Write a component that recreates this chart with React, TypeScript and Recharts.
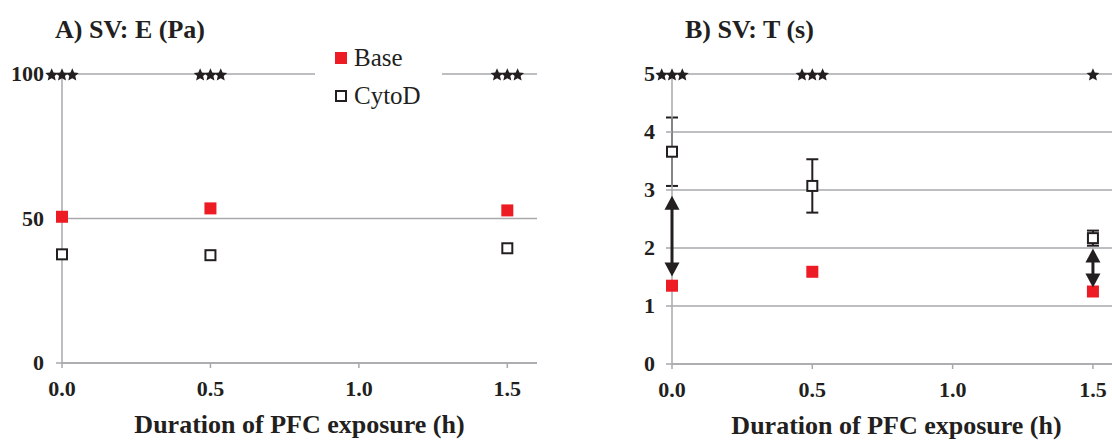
import {
  ScatterChart,
  Scatter,
  XAxis,
  YAxis,
  CartesianGrid,
  ErrorBar,
} from "recharts";

// PFC exposure times (h)
const times = [0, 0.5, 1.5];
const xTicks = [0, 0.5, 1.0, 1.5];
const seriesNames = ["Base", "CytoD"];

// panel A: E (Pa)
const baseE = [50.6, 53.5, 52.8];
const cytoE = [37.6, 37.3, 39.7];
const yTicksE = [0, 50, 100];
const starsE = [3, 3, 3];

// panel B: T (s)
const baseT = [1.35, 1.59, 1.25];
const cytoT = [3.66, 3.07, 2.17];
const cytoTErr = [0.59, 0.46, 0.13];
const yTicksT = [0, 1, 2, 3, 4, 5];
const starsT = [3, 3, 1];

// double arrows in panel B
const arrowTimes = [0, 1.5];
const arrowTop = [2.9, 1.99];
const arrowBottom = [1.51, 1.32];

const RED = "#ed1c24";
const INK = "#231f20";
const GRID = "#a7a9ac";
const SERIF = "'Liberation Serif', 'Times New Roman', serif";

const xTitleStyle = { fontFamily: SERIF, fontWeight: 700, fontSize: 26, fill: INK };

const baseDataE = times.map((x, i) => ({ x, y: baseE[i] }));
const cytoDataE = times.map((x, i) => ({ x, y: cytoE[i] }));
const starDataE = times.map((x, i) => ({ x, y: 100, n: starsE[i] }));
const baseDataT = times.map((x, i) => ({ x, y: baseT[i] }));
const cytoDataT = times.map((x, i) => ({ x, y: cytoT[i], err: cytoTErr[i] }));
const starDataT = times.map((x, i) => ({ x, y: 5, n: starsT[i] }));
const arrowData = arrowTimes.map((x, i) => [
  { x, y: arrowTop[i] },
  { x, y: arrowBottom[i] },
]);

const XTick = (p: any) => (
  <text
    x={p.x}
    y={p.y}
    dy="0.71em"
    textAnchor="middle"
    fill={INK}
    style={{ fontFamily: SERIF, fontWeight: 700, fontSize: 22 }}
  >
    {Number(p.payload.value).toFixed(1)}
  </text>
);

const YTick = (p: any) => (
  <text
    x={p.x}
    y={p.y}
    dy="0.34em"
    textAnchor="end"
    fill={INK}
    style={{ fontFamily: SERIF, fontWeight: 700, fontSize: 22 }}
  >
    {p.payload.value}
  </text>
);

const RedSquare = (p: any) => (
  <rect x={p.cx - 6} y={p.cy - 6} width={12} height={12} fill={RED} />
);

const OpenSquare = (p: any) => (
  <rect x={p.cx - 5} y={p.cy - 5} width={10} height={10} fill="#fff" stroke={INK} strokeWidth={2} />
);

const NoMark = () => <g />;

function starPoints(cx: number, cy: number, r: number) {
  const pts: string[] = [];
  for (let k = 0; k < 10; k++) {
    const rad = k % 2 === 0 ? r : r * 0.46;
    const a = -Math.PI / 2 + (k * Math.PI) / 5;
    pts.push(`${cx + rad * Math.cos(a)},${cy + rad * Math.sin(a) + 1}`);
  }
  return pts.join(" ");
}

const Stars = (p: any) => {
  const n = p.payload.n;
  const step = 10.3;
  const start = p.cx - ((n - 1) * step) / 2;
  return (
    <g>
      {Array.from({ length: n }, (_, k) => (
        <polygon key={k} points={starPoints(start + k * step, p.cy, 6.8)} fill={INK} />
      ))}
    </g>
  );
};

// drawn as the "line" of a two-point scatter so it sits above the axis line
const DoubleArrow = (p: any) => {
  const pts = p.points || [];
  if (pts.length < 2) return <g />;
  const x = pts[0].x;
  const top = Math.min(pts[0].y, pts[1].y);
  const bot = Math.max(pts[0].y, pts[1].y);
  const hw = 7.5;
  const hh = 14;
  return (
    <g>
      <line x1={x} y1={top + hh - 1} x2={x} y2={bot - hh + 1} stroke={INK} strokeWidth={3} />
      <polygon points={`${x},${top} ${x - hw},${top + hh} ${x + hw},${top + hh}`} fill={INK} />
      <polygon points={`${x},${bot} ${x - hw},${bot - hh} ${x + hw},${bot - hh}`} fill={INK} />
    </g>
  );
};

const titleStyle = {
  position: "absolute" as const,
  top: 17,
  fontFamily: SERIF,
  fontWeight: 700,
  fontSize: 26,
  lineHeight: "26px",
  color: INK,
  whiteSpace: "nowrap" as const,
};

function LegendBox() {
  return (
    <div
      style={{
        position: "absolute",
        left: 315,
        top: 44,
        width: 127,
        height: 66,
        background: "#fff",
      }}
    >
      {seriesNames.map((name, i) => (
        <div
          key={name}
          style={{
            position: "absolute",
            left: 20,
            top: i * 38,
            height: 28,
            display: "flex",
            alignItems: "center",
            fontFamily: SERIF,
            fontSize: 25,
            color: INK,
            whiteSpace: "nowrap",
          }}
        >
          {i === 0 ? (
            <span style={{ width: 12, height: 12, background: RED, display: "inline-block" }} />
          ) : (
            <span
              style={{
                width: 8,
                height: 8,
                border: `2px solid ${INK}`,
                background: "#fff",
                display: "inline-block",
              }}
            />
          )}
          <span style={{ marginLeft: 7 }}>{name}</span>
        </div>
      ))}
    </div>
  );
}

export default function App() {
  return (
    <div
      style={{
        position: "absolute",
        left: 0,
        top: 0,
        width: 1112,
        height: 442,
        overflow: "hidden",
        background: "#fff",
        fontFamily: SERIF,
      }}
    >
      <div style={{ ...titleStyle, left: 55 }}>A) SV: E (Pa)</div>
      <div style={{ ...titleStyle, left: 685 }}>B) SV: T (s)</div>

      <div style={{ position: "absolute", left: 0, top: 0 }}>
        <ScatterChart width={545} height={442} margin={{ top: 74, right: 8, left: 0, bottom: 0 }}>
          <CartesianGrid vertical={false} stroke={GRID} strokeWidth={1.5} />
          <XAxis
            type="number"
            dataKey="x"
            domain={[0, 1.6]}
            ticks={xTicks}
            height={79}
            stroke={GRID}
            strokeWidth={1.5}
            tickSize={5}
            tickMargin={12}
            tick={XTick}
            label={{ value: "Duration of PFC exposure (h)", position: "insideBottom", offset: 9, style: xTitleStyle }}
          />
          <YAxis
            type="number"
            dataKey="y"
            domain={[0, 100]}
            ticks={yTicksE}
            width={62}
            stroke={GRID}
            strokeWidth={1.5}
            tickSize={6}
            tickMargin={12}
            tick={YTick}
          />
          <Scatter name={seriesNames[0]} data={baseDataE} shape={RedSquare} isAnimationActive={false} />
          <Scatter name={seriesNames[1]} data={cytoDataE} shape={OpenSquare} isAnimationActive={false} />
          <Scatter name="starsE" data={starDataE} shape={Stars} isAnimationActive={false} />
        </ScatterChart>
      </div>
      <LegendBox />

      <div style={{ position: "absolute", left: 560, top: 0 }}>
        <ScatterChart width={561} height={442} margin={{ top: 74, right: 0, left: 0, bottom: 0 }}>
          <CartesianGrid vertical={false} stroke={GRID} strokeWidth={1.5} />
          <XAxis
            type="number"
            dataKey="x"
            domain={[0, 1.6]}
            ticks={xTicks}
            height={78}
            stroke={GRID}
            strokeWidth={1.5}
            tickSize={5}
            tickMargin={12}
            tick={XTick}
            label={{ value: "Duration of PFC exposure (h)", position: "insideBottom", offset: 8, style: xTitleStyle }}
          />
          <YAxis
            type="number"
            dataKey="y"
            domain={[0, 5]}
            ticks={yTicksT}
            width={112}
            stroke={GRID}
            strokeWidth={1.5}
            tickSize={6}
            tickMargin={11}
            tick={YTick}
          />
          <Scatter name={seriesNames[1]} data={cytoDataT} shape={OpenSquare} isAnimationActive={false}>
            <ErrorBar dataKey="err" direction="y" width={6} stroke={INK} strokeWidth={2} />
          </Scatter>
          <Scatter name={seriesNames[0]} data={baseDataT} shape={RedSquare} isAnimationActive={false} />
          <Scatter name="starsT" data={starDataT} shape={Stars} isAnimationActive={false} />
          {arrowData.map((d, i) => (
            <Scatter
              key={i}
              name={`arrow${i}`}
              data={d}
              shape={NoMark}
              line={DoubleArrow}
              isAnimationActive={false}
            />
          ))}
        </ScatterChart>
      </div>
    </div>
  );
}
